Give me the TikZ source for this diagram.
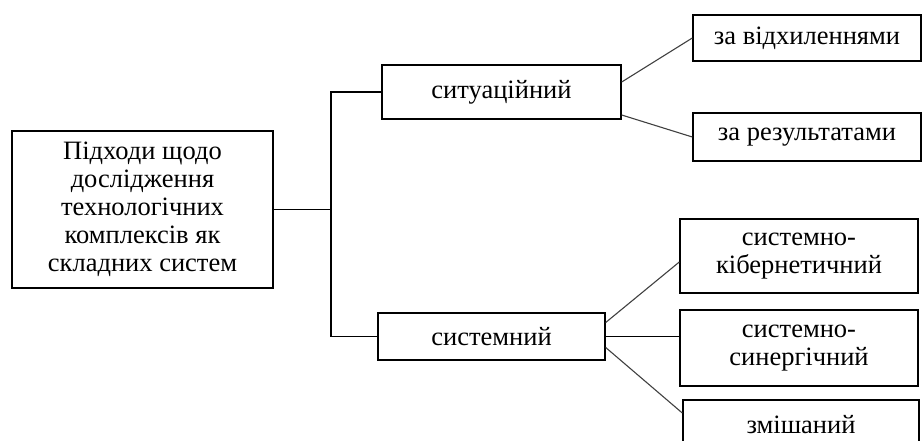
\documentclass[tikz,border=0pt]{standalone}
\usepackage{fontspec}
\setmainfont{Liberation Serif}
\usetikzlibrary{calc}

\begin{document}
\begin{tikzpicture}[x=1pt,y=-1pt,
    box/.style={draw, line width=1.4pt, inner sep=0pt, align=center,
        font=\fontsize{26.5}{28}\selectfont},
    link/.style={line width=1.2pt},
    slant/.style={line width=1.1pt, black!75}]
    % Frame of the picture
    \useasboundingbox (0,0) rectangle (924,441);
    \clip (0,0) rectangle (924,441);

    % Root of the scheme
    \node[box, minimum width=261pt, minimum height=157pt] (root) at (142.5,209.5)
        {Підходи щодо\\ дослідження\\ технологічних\\ комплексів як\\ складних систем};

    % Two approaches
    \node[box, minimum width=239pt, minimum height=54pt] (sit) at (501.5,92) {ситуаційний};
    \node[box, minimum width=227pt, minimum height=47pt] (sys) at (491.5,336.5) {системний};

    % Kinds of the situational approach
    \node[box, minimum width=228pt, minimum height=46pt] (dev) at (807,38) {за відхиленнями};
    \node[box, minimum width=228pt, minimum height=48pt] (res) at (807,137) {за результатами};

    % Kinds of the system approach
    \node[box, minimum width=238pt, minimum height=74pt] (cyb) at (799,256) {системно-\\кібернетичний};
    \node[box, minimum width=238pt, minimum height=76pt] (syn) at (799,348) {системно-\\синергічний};
    \node[box, minimum width=236pt, minimum height=50pt] (mix) at (801,425) {змішаний};

    % Trunk
    \coordinate (top) at (331,92);
    \coordinate (mid) at (331,209.5);
    \coordinate (bot) at (331,336.5);
    \draw[link] (root.east) -- (mid);
    \draw[link] (sit.west) -- (top) -- (bot) -- (sys.west);

    % Branches
    \draw[slant] ([yshift=10pt]sit.east) -- (dev.west);
    \draw[slant] ([yshift=-23pt]sit.east) -- (res.west);
    \draw[slant] ([yshift=14pt]sys.east) -- ([yshift=-6pt]cyb.west);
    \draw[link] (sys.east) -- (sys.east -| syn.west);
    \draw[slant] ([yshift=-11pt]sys.east) -- ([yshift=12pt]mix.west);
\end{tikzpicture}
\end{document}
